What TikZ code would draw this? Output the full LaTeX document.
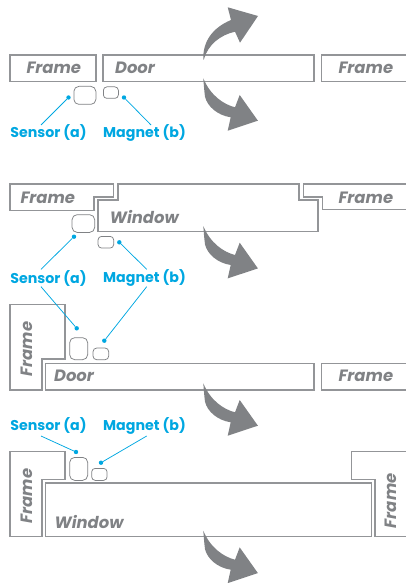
\documentclass[tikz,border=0pt]{standalone}
\usepackage{fontspec}
\setmainfont{Poppins}
\definecolor{wall}{HTML}{939598}
\definecolor{arrowgrey}{HTML}{808285}
\definecolor{labelblue}{HTML}{00A7E1}
\newcommand{\downarrowshape}[2]{%
  \fill[arrowgrey,shift={(#1,#2)}] (0,0) .. controls (0.5,7) and (1,13) .. (1.7,18.4)
    .. controls (4,28) and (14,37) .. (27.4,39) -- (24.4,52.4) -- (54.6,42.4) -- (36.4,16.7) -- (31.7,29)
    .. controls (20,26) and (7,17) .. (0,0) -- cycle;}
\tikzset{
  x=1pt,y=-1pt,
  part/.style={draw=wall,line width=1.15pt,line join=miter},
  partname/.style={font=\bfseries\itshape\fontsize{16.4}{18}\selectfont,text=arrowgrey,inner sep=0pt},
  device/.style={draw=arrowgrey,line width=0.75pt,rounded corners=5pt,minimum width=0pt,inner sep=0pt,fill=white},
  smalldevice/.style={device,rounded corners=3.5pt},
  tag/.style={font=\bfseries\fontsize{14.2}{16}\selectfont,text=labelblue,inner sep=0pt},
  lead/.style={draw=labelblue,line width=0.75pt},
  dotmark/.style={circle,fill=labelblue,inner sep=0pt,minimum size=4.4pt},
}
\newcommand{\device}[5]{\node[device,minimum width=#3 pt,minimum height=#4 pt,anchor=north west] (#5) at (#1,#2) {};}
\newcommand{\magnetbox}[5]{\node[smalldevice,minimum width=#3 pt,minimum height=#4 pt,anchor=north west] (#5) at (#1,#2) {};}
\begin{document}
\begin{tikzpicture}
\useasboundingbox (0,0) rectangle (405,583);
% ---- panel 1
\draw[part] (10,55) rectangle (96,81.5);
\draw[part] (103,55) rectangle (314,81.5);
\draw[part] (406,55) -- (321.5,55) -- (321.5,81.5) -- (406,81.5);
\node[partname] (f1a) at (53.8,67.5) {Frame};
\node[partname] (d1) at (135,67.5) {Door};
\node[partname] (f1b) at (365.8,67.5) {Frame};
\device{73.5}{86}{22}{18}{s1}
\magnetbox{103}{86.5}{15}{11.5}{m1}
\node[tag] (ts1) at (48.5,133) {Sensor (a)};
\node[tag] (tm1) at (144.5,133) {Magnet (b)};
\node[dotmark] (ds1) at (68.5,97.5) {};
\node[dotmark] (dm1) at (124,97.5) {};
\coordinate (ls1) at (41,125);
\coordinate (lm1) at (151,125);
\draw[lead] (ls1) -- (ds1);
\draw[lead] (lm1) -- (dm1);
\fill[arrowgrey] (203.3,60) .. controls (202.5,42) and (212,28) .. (231,20) -- (227.7,7.3) -- (258,16) -- (240,42.7) -- (235,31.7)
  .. controls (220,35) and (208,45) .. (204,59) -- cycle;
\downarrowshape{203.3}{78.3}
% ---- panel 2
\draw[part] (10,184) -- (113.5,184) -- (113.5,197) -- (94,197) -- (94,210.5) -- (10,210.5) -- cycle;
\draw[part] (118,184) -- (299,184) -- (299,200) -- (318,200) -- (318,231.7) -- (98,231.7) -- (98,200) -- (118,200) -- cycle;
\draw[part] (406,184) -- (303.3,184) -- (303.3,197) -- (322.7,197) -- (322.7,209.8) -- (406,209.8);
\node[partname] (f2a) at (47.8,197.7) {Frame};
\node[partname] (w2) at (144.3,216.7) {Window};
\node[partname] (f2b) at (365.8,197.7) {Frame};
\device{71.7}{214.3}{22.6}{17.7}{s2}
\magnetbox{97.7}{236}{15.6}{11.7}{m2}
\node[tag] (ts2) at (48.5,278) {Sensor (a)};
\node[tag] (tm2) at (144.5,278) {Magnet (b)};
\node[dotmark] (ds2) at (74,236.7) {};
\node[dotmark] (dm2) at (119.3,242.3) {};
\coordinate (ls2) at (41,269.3);
\coordinate (lm2) at (146.7,269.3);
\draw[lead] (ls2) -- (ds2);
\draw[lead] (lm2) -- (dm2);
\downarrowshape{203.3}{226}
% ---- panel 3
\draw[part] (10,304.3) -- (65,304.3) -- (65,359) -- (42,359) -- (42,390) -- (10,390) -- cycle;
\draw[part] (45.3,363.3) rectangle (314,390);
\draw[part] (406,363.3) -- (321.5,363.3) -- (321.5,390) -- (406,390);
\node[partname,rotate=90] (f3a) at (27,349) {Frame};
\node[partname] (d3) at (74,376) {Door};
\node[partname] (f3b) at (365.8,375.7) {Frame};
\device{69.3}{337.3}{18}{22}{s3}
\magnetbox{92.7}{347.7}{15.6}{11.6}{m3}
\coordinate (ls3) at (41,286.7);
\coordinate (lm3) at (146.7,286.7);
\node[dotmark] (ds3) at (76.7,328.3) {};
\node[dotmark] (dm3) at (104.3,340.7) {};
\draw[lead] (ls3) -- (ds3);
\draw[lead] (lm3) -- (dm3);
\downarrowshape{203.3}{383.3}
% ---- panel 4
\draw[part] (10,451.7) -- (65,451.7) -- (65,479.3) -- (42,479.3) -- (42,536.7) -- (10,536.7) -- cycle;
\draw[part] (45.3,483) rectangle (371.3,536.7);
\draw[part] (406,451.7) -- (351.7,451.7) -- (351.7,479.3) -- (375,479.3) -- (375,536.7) -- (406,536.7);
\node[partname,rotate=90] (f4a) at (27,496) {Frame};
\node[partname] (w4) at (89,522) {Window};
\node[partname,rotate=90] (f4b) at (391,500.7) {Frame};
\device{69.3}{457}{18}{23}{s4}
\magnetbox{91.3}{468}{15.4}{12}{m4}
\node[tag] (ts4) at (48.5,425.7) {Sensor (a)};
\node[tag] (tm4) at (144.5,425.7) {Magnet (b)};
\node[dotmark] (ds4) at (76,452) {};
\node[dotmark] (dm4) at (101,462.7) {};
\coordinate (ls4) at (41,436);
\coordinate (lm4) at (146.7,436);
\draw[lead] (ls4) -- (ds4);
\draw[lead] (lm4) -- (dm4);
\downarrowshape{203.3}{530.7}
\end{tikzpicture}
\end{document}
